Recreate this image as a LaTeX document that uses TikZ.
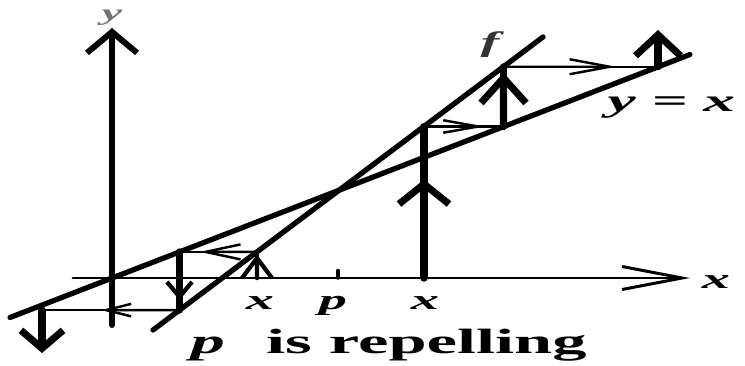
\documentclass[tikz,border=0pt]{standalone}
\usepackage{fontspec}
\setmainfont{Liberation Serif}
\usetikzlibrary{arrows.meta,calc}
\begin{document}
\begin{tikzpicture}[scale=1, line join=round, line cap=round,
		lbl/.style={font=\fontsize{16}{18}\selectfont\bfseries\itshape, xscale=2, inner sep=0pt},
		heavy/.style={line width=4pt},
		light/.style={line width=1.4pt},
		barb/.style 2 args={-{Straight Barb[length=#1cm,width=#2cm]}}]
	\useasboundingbox (-2.24,-1.74) rectangle (12.66,5.56);
	\coordinate (ybot) at (0,-0.94);
	\coordinate (ytop) at (0,5.0);
	\coordinate (xleft) at (-0.78,0);
	\coordinate (xright) at (11.56,0);
	\coordinate (d1) at (-2.04,-0.79);
	\coordinate (d2) at (11.56,4.47);
	\coordinate (f1) at (0.82,-1.04);
	\coordinate (f2) at (8.62,4.82);
	\draw[line width=3.4pt, barb={0.42}{1.0}] (ybot)--(ytop);
	\draw[line width=1.7pt, barb={1.2}{0.46}] (xleft)--(xright);
	\draw[line width=3pt] (d1)--(d2);
	\draw[line width=3pt] (f1)--(f2);
	\coordinate (pbase) at (4.52,0);
	\coordinate (ptop) at (4.52,0.15);
	\draw[line width=2pt] (pbase)--(ptop);
	\coordinate (r0) at (6.24,0);
	\coordinate (r1) at (6.24,3.03);
	\coordinate (r2) at (7.83,3.03);
	\coordinate (r3) at (7.83,4.225);
	\coordinate (r4) at (10.92,4.225);
	\coordinate (r5) at (10.92,4.96);
	\draw[heavy] (r0)--(r1);
	\draw[heavy, barb={0.4}{1.0}] (r0)--($(r0)!0.65!(r1)$);
	\draw[light] (r1)--(r2);
	\draw[light, barb={0.7}{0.25}] (r1)--($(r1)!0.77!(r2)$);
	\draw[heavy] (r2)--(r3);
	\draw[heavy, barb={0.5}{0.9}] (r2)--($(r2)!0.9!(r3)$);
	\draw[light] (r3)--(r4);
	\draw[light, barb={0.8}{0.3}] (r3)--($(r3)!0.73!(r4)$);
	\draw[heavy, barb={0.42}{0.9}] (r4)--(r5);
	\coordinate (l0) at (2.9,0);
	\coordinate (l1) at (2.9,0.522);
	\coordinate (l2) at (1.35,0.522);
	\coordinate (l3) at (1.35,-0.642);
	\coordinate (l4) at (-1.4,-0.642);
	\coordinate (l5) at (-1.4,-1.5);
	\draw[line width=2.4pt, barb={0.4}{0.6}] (l0)--($(l0)!0.9!(l1)$);
	\draw[line width=2.4pt] (l0)--(l1);
	\draw[light] (l1)--(l2);
	\draw[light, barb={0.7}{0.3}] (l1)--($(l1)!0.74!(l2)$);
	\draw[heavy] (l2)--(l3);
	\draw[line width=2.4pt, barb={0.3}{0.5}] (l2)--($(l2)!0.83!(l3)$);
	\draw[light] (l3)--(l4);
	\draw[light, barb={0.5}{0.25}] (l3)--($(l3)!0.57!(l4)$);
	\draw[heavy, barb={0.36}{0.84}] (l4)--(l5);
	\node[lbl, font=\fontsize{13}{15}\selectfont\bfseries\itshape, text=black!55] (ylab) at (0,5.2) {y};
	\node[lbl] (xlab) at (12.08,-0.08) {x};
	\node[lbl, text=black!80] (flab) at (7.56,4.66) {f};
	\node[lbl, font=\fontsize{18}{20}\selectfont\bfseries\itshape, anchor=base west] (diaglab) at (9.9,3.32) {y = x};
	\node[lbl, anchor=base] (x1lab) at (2.96,-0.62) {x};
	\node[lbl, anchor=base] (plab) at (4.42,-0.62) {p};
	\node[lbl, anchor=base] (x0lab) at (6.26,-0.62) {x};
	\node[font=\fontsize{20}{22}\selectfont\bfseries, xscale=1.95, inner sep=0pt, anchor=base west] (caption) at (1.56,-1.5) {\itshape p\upshape\hspace{0.6em}is repelling};
\end{tikzpicture}
\end{document}
